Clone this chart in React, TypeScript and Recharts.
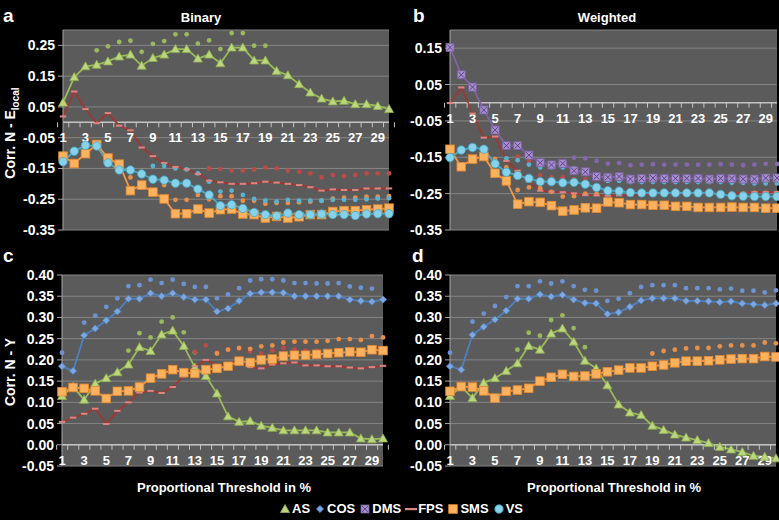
import React from 'react';
import { LineChart, Line, XAxis, YAxis, CartesianGrid, ReferenceLine, ReferenceDot } from 'recharts';

const FONT = '"Liberation Sans", Arial, sans-serif';

const thresholds = [1, 2, 3, 4, 5, 6, 7, 8, 9, 10, 11, 12, 13, 14, 15, 16, 17, 18, 19, 20, 21, 22, 23, 24, 25, 26, 27, 28, 29, 30];

// a - Binary, Corr. N - E_local
const asA = [0.064, 0.147, 0.182, 0.187, 0.198, 0.214, 0.22, 0.184, 0.209, 0.22, 0.238, 0.238, 0.207, 0.22, 0.192, 0.243, 0.243, 0.201, 0.201, 0.167, 0.153, 0.124, 0.097, 0.077, 0.068, 0.07, 0.059, 0.059, 0.053, 0.043];
const asAStar = [null, null, null, 0.234, 0.247, 0.261, 0.265, 0.229, 0.255, 0.264, 0.286, 0.286, 0.256, 0.266, 0.238, 0.29, 0.29, 0.249, 0.249, null, null, null, null, null, null, null, null, null, null, null];
const fpsA = [0.019, 0.1, 0.043, -0.003, 0.03, -0.011, -0.026, -0.082, -0.11, -0.132, -0.145, -0.153, -0.168, -0.19, -0.195, -0.2, -0.2, -0.198, -0.193, -0.196, -0.2, -0.204, -0.211, -0.222, -0.218, -0.22, -0.22, -0.215, -0.215, -0.215];
const fpsAStar = [null, null, null, null, null, null, null, null, null, null, null, null, null, -0.15, -0.152, -0.157, -0.157, -0.153, -0.147, -0.15, -0.157, -0.161, -0.166, -0.179, -0.171, -0.175, -0.171, -0.166, -0.166, -0.166];
const smsA = [-0.11, -0.134, -0.102, -0.072, -0.116, -0.136, -0.222, -0.204, -0.227, -0.249, -0.297, -0.297, -0.282, -0.295, -0.284, -0.282, -0.298, -0.3, -0.311, -0.306, -0.311, -0.307, -0.3, -0.3, -0.29, -0.287, -0.287, -0.284, -0.282, -0.279];
const smsAStar = [null, null, null, null, null, null, -0.179, -0.161, -0.185, -0.204, -0.252, -0.252, -0.236, -0.25, -0.24, -0.24, -0.255, -0.255, -0.265, -0.262, -0.262, -0.26, -0.258, -0.255, -0.248, -0.245, -0.245, -0.242, -0.242, -0.24];
const vsA = [-0.128, -0.094, -0.075, -0.077, -0.132, -0.155, -0.155, -0.168, -0.185, -0.188, -0.198, -0.198, -0.217, -0.236, -0.271, -0.268, -0.28, -0.293, -0.3, -0.304, -0.295, -0.3, -0.3, -0.298, -0.3, -0.3, -0.303, -0.298, -0.297, -0.297];
const vsAStar = [null, null, null, null, null, null, null, null, -0.142, -0.142, -0.15, -0.153, -0.166, -0.193, -0.225, -0.222, -0.236, -0.249, -0.255, -0.258, -0.252, -0.255, -0.255, -0.255, -0.252, -0.252, -0.252, -0.25, -0.248, -0.247];

// b - Weighted, Corr. N - E_local
const dmsB = [0.152, 0.077, 0.043, -0.02, -0.075, -0.118, -0.118, -0.144, -0.165, -0.171, -0.167, -0.187, -0.19, -0.203, -0.205, -0.203, -0.21, -0.208, -0.207, -0.208, -0.208, -0.208, -0.208, -0.21, -0.208, -0.208, -0.21, -0.21, -0.207, -0.207];
const dmsBStar = [null, null, null, null, null, null, null, null, null, null, null, -0.151, -0.153, -0.16, -0.168, -0.166, -0.172, -0.17, -0.169, -0.17, -0.17, -0.17, -0.17, -0.17, -0.169, -0.17, -0.172, -0.17, -0.168, -0.168];
const fpsB = [-0.001, 0.042, -0.03, -0.096, -0.093, -0.16, -0.187, -0.217, -0.242, -0.245, -0.246, -0.249, -0.254, -0.255, -0.256, -0.255, -0.255, -0.252, -0.25, -0.25, -0.25, -0.25, -0.25, -0.25, -0.25, -0.249, -0.248, -0.246, -0.246, -0.246];
const fpsBStar = [null, null, null, null, null, null, -0.148, -0.16, -0.2, -0.205, -0.205, -0.21, -0.21, -0.21, -0.215, -0.213, -0.215, -0.214, -0.215, -0.214, -0.214, -0.214, -0.215, -0.215, -0.214, -0.215, -0.215, -0.214, -0.214, -0.214];
const smsB = [-0.128, -0.176, -0.155, -0.148, -0.194, -0.215, -0.279, -0.272, -0.274, -0.283, -0.298, -0.295, -0.289, -0.29, -0.273, -0.275, -0.28, -0.28, -0.282, -0.282, -0.285, -0.285, -0.288, -0.288, -0.288, -0.287, -0.288, -0.288, -0.29, -0.29];
const smsBStar = [null, null, null, null, -0.155, -0.178, -0.24, -0.233, -0.235, -0.245, -0.258, -0.257, -0.25, -0.25, -0.246, -0.246, -0.248, -0.248, -0.248, -0.248, -0.248, -0.248, -0.248, -0.248, -0.25, -0.25, -0.25, -0.248, -0.248, -0.248];
const vsB = [-0.151, -0.13, -0.123, -0.128, -0.168, -0.191, -0.2, -0.208, -0.217, -0.217, -0.22, -0.219, -0.224, -0.233, -0.242, -0.243, -0.247, -0.248, -0.248, -0.248, -0.248, -0.248, -0.248, -0.248, -0.252, -0.256, -0.257, -0.258, -0.258, -0.258];
const vsBStar = [null, null, null, null, null, -0.153, -0.158, -0.17, -0.178, -0.178, -0.178, -0.18, -0.19, -0.2, -0.215, -0.215, -0.218, -0.218, -0.218, -0.218, -0.218, -0.218, -0.218, -0.218, -0.218, -0.22, -0.22, -0.222, -0.222, -0.222];

// c - Binary, Corr. N - Y
const asC = [0.115, 0.137, 0.106, 0.144, 0.157, 0.171, 0.189, 0.23, 0.221, 0.26, 0.269, 0.233, 0.182, 0.162, 0.121, 0.067, 0.054, 0.056, 0.045, 0.04, 0.034, 0.034, 0.034, 0.034, 0.029, 0.029, 0.029, 0.015, 0.013, 0.015];
const asCStar = [null, null, null, null, null, null, 0.222, 0.263, 0.253, 0.29, 0.3, 0.265, 0.218, null, null, null, null, null, null, null, null, null, null, null, null, null, null, null, null, null];
const cosC = [0.185, 0.174, 0.258, 0.274, 0.293, 0.314, 0.344, 0.344, 0.357, 0.35, 0.357, 0.348, 0.342, 0.342, 0.314, 0.321, 0.339, 0.356, 0.359, 0.359, 0.358, 0.35, 0.35, 0.35, 0.35, 0.35, 0.342, 0.339, 0.337, 0.342];
const cosCStar = [0.217, null, 0.288, 0.304, 0.325, 0.345, 0.374, 0.376, 0.389, 0.381, 0.389, 0.379, 0.372, 0.372, 0.345, 0.354, 0.369, 0.387, 0.39, 0.39, 0.387, 0.381, 0.381, 0.38, 0.38, 0.381, 0.373, 0.37, 0.368, null];
const fpsC = [0.054, 0.064, 0.073, 0.085, 0.049, 0.08, 0.1, 0.123, 0.127, 0.122, 0.136, 0.161, 0.185, 0.2, 0.187, 0.192, 0.194, 0.183, 0.18, 0.189, 0.192, 0.194, 0.187, 0.187, 0.185, 0.185, 0.182, 0.18, 0.183, 0.186];
const fpsCStar = [null, null, null, null, null, null, null, null, null, null, null, null, 0.219, 0.234, 0.217, 0.225, 0.226, 0.22, 0.215, 0.222, 0.228, 0.225, 0.222, 0.222, 0.218, 0.218, 0.218, 0.215, 0.218, 0.22];
const smsC = [0.125, 0.135, 0.133, 0.127, 0.109, 0.126, 0.127, 0.136, 0.157, 0.167, 0.177, 0.17, 0.168, 0.177, 0.18, 0.185, 0.197, 0.194, 0.2, 0.202, 0.209, 0.211, 0.211, 0.213, 0.215, 0.217, 0.219, 0.218, 0.224, 0.222];
const smsCStar = [null, null, null, null, null, null, null, null, null, null, null, null, null, null, 0.215, 0.224, 0.228, 0.226, 0.232, 0.234, 0.241, 0.243, 0.243, 0.243, 0.245, 0.249, 0.249, 0.247, 0.256, 0.253];

// d - Weighted, Corr. N - Y
const asD = [0.115, 0.137, 0.11, 0.146, 0.157, 0.174, 0.192, 0.233, 0.224, 0.262, 0.274, 0.243, 0.198, 0.18, 0.14, 0.095, 0.076, 0.07, 0.045, 0.035, 0.024, 0.017, 0.011, 0.004, -0.005, -0.011, -0.017, -0.026, -0.028, -0.032];
const asDStar = [null, null, null, null, null, null, 0.224, 0.264, 0.257, 0.294, 0.305, 0.275, 0.23, null, null, null, null, null, null, null, null, null, null, null, null, null, null, null, null, null];
const cosD = [0.185, 0.177, 0.259, 0.278, 0.295, 0.316, 0.344, 0.344, 0.354, 0.349, 0.353, 0.342, 0.334, 0.333, 0.308, 0.312, 0.325, 0.34, 0.345, 0.345, 0.345, 0.339, 0.339, 0.338, 0.336, 0.338, 0.333, 0.331, 0.329, 0.333];
const cosDStar = [0.217, null, 0.29, 0.309, 0.327, 0.348, 0.374, 0.374, 0.385, 0.38, 0.385, 0.374, 0.365, 0.363, 0.339, 0.344, 0.357, 0.372, 0.376, 0.376, 0.376, 0.369, 0.369, 0.369, 0.366, 0.368, 0.363, 0.363, 0.359, 0.364];
const smsD = [0.126, 0.137, 0.136, 0.127, 0.11, 0.126, 0.129, 0.133, 0.15, 0.159, 0.166, 0.161, 0.162, 0.167, 0.172, 0.176, 0.181, 0.181, 0.185, 0.188, 0.193, 0.197, 0.197, 0.198, 0.2, 0.202, 0.203, 0.203, 0.208, 0.207];
const smsDStar = [null, null, null, null, null, null, null, null, null, null, null, null, null, null, null, null, null, null, 0.215, 0.221, 0.224, 0.227, 0.228, 0.228, 0.232, 0.234, 0.234, 0.234, 0.241, 0.239];

const ticksTop = [-0.35, -0.25, -0.15, -0.05, 0.05, 0.15, 0.25];
const ticksTopB = [-0.35, -0.25, -0.15, -0.05, 0.05, 0.15];
const ticksBottom = [-0.05, 0, 0.05, 0.1, 0.15, 0.2, 0.25, 0.3, 0.35, 0.4];

const legendKinds = ['AS', 'COS', 'DMS', 'FPS', 'SMS', 'VS'];

const lineColor: Record<string, string> = {
  AS: '#9BBB59',
  COS: '#4F81BD',
  DMS: '#8064A2',
  FPS: '#9c3835',
  SMS: '#F79646',
  VS: '#4BACC6',
};
const starColor: Record<string, string> = {
  AS: '#9ab85e',
  COS: '#6d93d2',
  DMS: '#8468ad',
  FPS: '#b94c49',
  SMS: '#e8904a',
  VS: '#5bb4cf',
};

function markerShape(kind: string, cx: number, cy: number) {
  switch (kind) {
    case 'AS':
      return <polygon points={`${cx},${cy - 4.5} ${cx + 4.5},${cy + 3.5} ${cx - 4.5},${cy + 3.5}`} fill="#bcd67f" stroke="#8fae4d" strokeWidth={0.8} />;
    case 'COS':
      return <polygon points={`${cx},${cy - 3.6} ${cx + 3.6},${cy} ${cx},${cy + 3.6} ${cx - 3.6},${cy}`} fill="#7ea6e0" stroke="#4F81BD" strokeWidth={0.8} />;
    case 'DMS':
      return (
        <g>
          <rect x={cx - 4} y={cy - 4} width={8} height={8} fill="#a68fcc" stroke="#7a5fa3" strokeWidth={0.8} />
          <path d={`M${cx - 3} ${cy - 3}L${cx + 3} ${cy + 3}M${cx + 3} ${cy - 3}L${cx - 3} ${cy + 3}`} stroke="#5e4488" strokeWidth={1} />
        </g>
      );
    case 'FPS':
      return <rect x={cx - 3.2} y={cy - 1} width={6.4} height={2} fill="#dc8581" />;
    case 'SMS':
      return <rect x={cx - 4.3} y={cy - 4.3} width={8.6} height={8.6} fill="#fbb15e" stroke="#e48a2f" strokeWidth={0.8} />;
    default:
      return <circle cx={cx} cy={cy} r={4.2} fill="#86d2ea" stroke="#45a6c2" strokeWidth={0.8} />;
  }
}

const lineDot = (kind: string) => (p: any) => {
  const k = `m-${kind}-${p.index}`;
  if (p.cx == null || p.cy == null || p.value == null) return <g key={k} />;
  return <g key={k}>{markerShape(kind, p.cx, p.cy)}</g>;
};

const starDot = (kind: string) => (p: any) => {
  const k = `s-${kind}-${p.index}`;
  if (p.cx == null || p.cy == null || p.value == null) return <g key={k} />;
  return <circle key={k} cx={p.cx} cy={p.cy} r={2.4} fill={starColor[kind]} />;
};

type SeriesDef = { kind: string; line: (number | null)[]; star: (number | null)[] };

function buildRows(series: SeriesDef[]) {
  return thresholds.map((t, i) => {
    const row: Record<string, number | null> = { t };
    series.forEach((s) => {
      row[s.kind] = s.line[i];
      row[s.kind + '_s'] = s.star[i];
    });
    return row;
  });
}

const seriesA: SeriesDef[] = [
  { kind: 'AS', line: asA, star: asAStar },
  { kind: 'FPS', line: fpsA, star: fpsAStar },
  { kind: 'SMS', line: smsA, star: smsAStar },
  { kind: 'VS', line: vsA, star: vsAStar },
];
const seriesB: SeriesDef[] = [
  { kind: 'DMS', line: dmsB, star: dmsBStar },
  { kind: 'FPS', line: fpsB, star: fpsBStar },
  { kind: 'SMS', line: smsB, star: smsBStar },
  { kind: 'VS', line: vsB, star: vsBStar },
];
const seriesC: SeriesDef[] = [
  { kind: 'AS', line: asC, star: asCStar },
  { kind: 'COS', line: cosC, star: cosCStar },
  { kind: 'FPS', line: fpsC, star: fpsCStar },
  { kind: 'SMS', line: smsC, star: smsCStar },
];
const seriesD: SeriesDef[] = [
  { kind: 'AS', line: asD, star: asDStar },
  { kind: 'COS', line: cosD, star: cosDStar },
  { kind: 'SMS', line: smsD, star: smsDStar },
];

type PanelProps = {
  series: SeriesDef[];
  domain: [number, number];
  ticks: number[];
  left: number;
  top: number;
  width: number;
  height: number;
  margin: { top: number; right: number; bottom: number; left: number };
};

const Y_W = 55;

function Panel({ series, domain, ticks, left, top, width, height, margin }: PanelProps) {
  const rows = buildRows(series);
  const band = (width - margin.left - margin.right - Y_W) / thresholds.length;
  return (
    <div style={{ position: 'absolute', left, top }}>
      <LineChart width={width} height={height} data={rows} margin={margin}>
        <CartesianGrid vertical={false} stroke="#858585" fill="#5b5b5b" fillOpacity={1} />
        <XAxis dataKey="t" height={0} tick={false} tickLine={false} axisLine={{ stroke: '#9a9a9a' }} />
        <XAxis xAxisId="top" orientation="top" dataKey="t" height={0} tick={false} tickLine={false} axisLine={{ stroke: '#9a9a9a' }} />
        <YAxis
          width={Y_W}
          type="number"
          domain={domain}
          ticks={ticks}
          interval={0}
          allowDataOverflow
          tickFormatter={(v: number) => v.toFixed(2)}
          tick={{ fill: '#ffffff', fontSize: 14, fontWeight: 700, fontFamily: FONT }}
          tickLine={{ stroke: '#a6a6a6' }}
          axisLine={{ stroke: '#a6a6a6' }}
          tickSize={5}
          tickMargin={3}
        />
        <YAxis yAxisId="right" orientation="right" width={0} tick={false} tickLine={false} axisLine={{ stroke: '#9a9a9a' }} />
        <ReferenceLine y={0} stroke="#c4c4c4" strokeWidth={1.5} />
        {thresholds.map((t, i) => (
          <ReferenceDot
            key={`c${t}`}
            x={t}
            y={0}
            r={0}
            shape={(p: any) => (
              <g>
                <line x1={p.cx - band / 2} x2={p.cx - band / 2} y1={p.cy} y2={p.cy + 5} stroke="#c4c4c4" />
                {i === thresholds.length - 1 && (
                  <line x1={p.cx + band / 2} x2={p.cx + band / 2} y1={p.cy} y2={p.cy + 5} stroke="#c4c4c4" />
                )}
                {t % 2 === 1 && (
                  <text x={p.cx} y={p.cy + 20} textAnchor="middle" fill="#ffffff" fontSize={13} fontWeight={700} fontFamily={FONT}>
                    {t}
                  </text>
                )}
              </g>
            )}
          />
        ))}
        {series.map((s) => (
          <Line
            key={s.kind + '_s'}
            dataKey={s.kind + '_s'}
            stroke="none"
            dot={starDot(s.kind)}
            activeDot={false}
            isAnimationActive={false}
            legendType="none"
          />
        ))}
        {series.map((s) => (
          <Line
            key={s.kind}
            dataKey={s.kind}
            stroke={lineColor[s.kind]}
            strokeWidth={1.8}
            dot={lineDot(s.kind)}
            activeDot={false}
            isAnimationActive={false}
          />
        ))}
      </LineChart>
    </div>
  );
}

const textStyle = { fill: '#ffffff', fontWeight: 700, fontFamily: FONT };

export default function App() {
  return (
    <div style={{ position: 'absolute', left: 0, top: 0, width: 779, height: 520, background: '#000', overflow: 'hidden', fontFamily: FONT }}>
      <Panel series={seriesA} domain={[-0.35, 0.3]} ticks={ticksTop} left={0} top={0} width={395} height={240} margin={{ top: 30, right: 6, bottom: 10, left: 8 }} />
      <Panel series={seriesB} domain={[-0.35, 0.2]} ticks={ticksTopB} left={390} top={0} width={389} height={240} margin={{ top: 30, right: 2, bottom: 10, left: 5 }} />
      <Panel series={seriesC} domain={[-0.05, 0.4]} ticks={ticksBottom} left={0} top={240} width={395} height={240} margin={{ top: 35, right: 12, bottom: 14, left: 7 }} />
      <Panel series={seriesD} domain={[-0.05, 0.4]} ticks={ticksBottom} left={390} top={240} width={389} height={240} margin={{ top: 35, right: 3, bottom: 14, left: 5 }} />

      <svg width={779} height={520} style={{ position: 'absolute', left: 0, top: 0, pointerEvents: 'none' }}>
        <text x={3} y={22} fontSize={19} {...textStyle}>a</text>
        <text x={413} y={22} fontSize={19} {...textStyle}>b</text>
        <text x={3} y={262} fontSize={19} {...textStyle}>c</text>
        <text x={412} y={262} fontSize={19} {...textStyle}>d</text>
        <text x={201} y={22} fontSize={13} textAnchor="middle" {...textStyle}>Binary</text>
        <text x={607} y={22} fontSize={13} textAnchor="middle" {...textStyle}>Weighted</text>
        <text transform="translate(15,133) rotate(-90)" fontSize={14} textAnchor="middle" {...textStyle}>
          Corr. N - E<tspan fontSize={10} dy={4}>local</tspan>
        </text>
        <text transform="translate(15,372) rotate(-90)" fontSize={14} textAnchor="middle" {...textStyle}>Corr. N - Y</text>
        <text x={224} y={492} fontSize={13} textAnchor="middle" {...textStyle}>Proportional Threshold in %</text>
        <text x={614} y={492} fontSize={13} textAnchor="middle" {...textStyle}>Proportional Threshold in %</text>
      </svg>

      <div style={{ position: 'absolute', left: 0, top: 501, width: 806, display: 'flex', justifyContent: 'center', color: '#fff', fontWeight: 700, fontSize: 13, lineHeight: '16px' }}>
        {legendKinds.map((k) => (
          <span key={k} style={{ display: 'inline-flex', alignItems: 'center', marginRight: 4 }}>
            <svg width={12} height={12} style={{ marginRight: 1 }}>
              {k === 'FPS' ? <rect x={0} y={5} width={12} height={2.2} fill="#dc8581" /> : markerShape(k, 6, 6)}
            </svg>
            {k}
          </span>
        ))}
      </div>
    </div>
  );
}
